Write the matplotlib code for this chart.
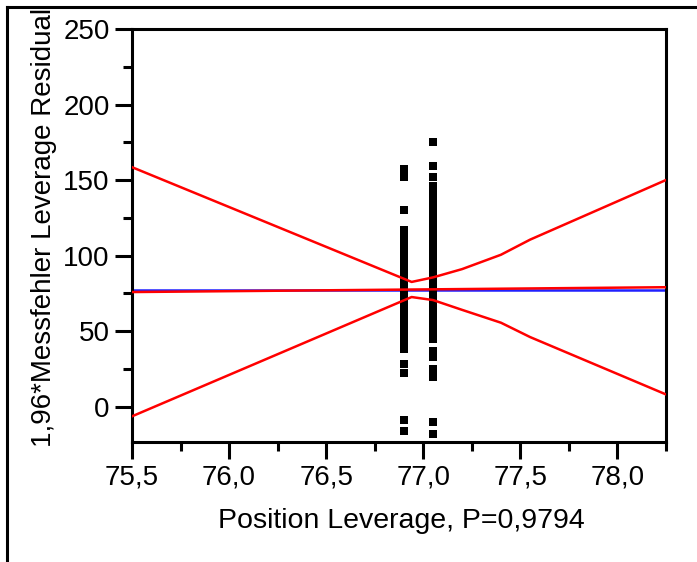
import matplotlib
matplotlib.use("Agg")
import matplotlib.pyplot as plt
from matplotlib.lines import Line2D
from matplotlib.ticker import MultipleLocator, FuncFormatter

plt.rcParams['font.family'] = ['Liberation Sans', 'DejaVu Sans']

# Data
x_group1 = 76.9
y_group1 = [157.5, 152, 130, 117, 114, 111, 108, 105, 102, 99, 96, 93, 90, 87,
            84, 81, 78, 75, 72, 69, 66, 63, 60, 57, 54, 51, 48.5, 44, 41, 38,
            28, 22.5, -9, -16]
x_group2 = 77.05
y_group2 = [175, 159, 152, 146, 143, 140, 137, 134, 131, 128, 123.5, 120, 117,
            114, 111, 108, 105, 102, 99, 96, 93, 90, 87, 84, 81, 78, 75, 72,
            69, 66, 63, 60, 57, 54, 51, 48, 45, 37, 33, 25, 19.5, -10.5, -18]

mean_y = 77.2
fit_x = [75.5, 78.25]
fit_y = [75.8, 79.0]

upper_x = [75.5, 76.94, 77.05, 77.2, 77.4, 77.55, 78.25]
upper_y = [158.5, 82.5, 85.5, 91, 100.5, 110.5, 150]
lower_x = [75.5, 76.94, 77.05, 77.2, 77.4, 77.55, 78.25]
lower_y = [-6.5, 72.5, 70.5, 64, 55.5, 46, 8]

xlabel = "Position Leverage, P=0,9794"
ylabel = "1,96*Messfehler Leverage Residual"

fig = plt.figure(figsize=(6.97, 5.62), dpi=100)
ax = fig.add_axes([132/697, 1-442/562, (666-132)/697, (442-29)/562])

ax.plot([x_group1]*len(y_group1), y_group1, 's', color='black', ms=5.7, mew=0, zorder=3)
ax.plot([x_group2]*len(y_group2), y_group2, 's', color='black', ms=5.7, mew=0, zorder=3)

ax.axhline(mean_y, color='#2020ff', lw=1.8, zorder=2)
ax.plot(fit_x, fit_y, color='#ff0000', lw=1.8, zorder=4)
ax.plot(upper_x, upper_y, color='#ff0000', lw=1.8, zorder=4)
ax.plot(lower_x, lower_y, color='#ff0000', lw=1.8, zorder=4)

ax.set_xlim(75.5, 78.25)
ax.set_ylim(-23.5, 250)

ax.xaxis.set_major_locator(MultipleLocator(0.5))
ax.xaxis.set_minor_locator(MultipleLocator(0.25))
ax.yaxis.set_major_locator(MultipleLocator(50))
ax.yaxis.set_minor_locator(MultipleLocator(25))
ax.xaxis.set_major_formatter(FuncFormatter(lambda v, p: f"{v:.1f}".replace('.', ',')))
ax.yaxis.set_major_formatter(FuncFormatter(lambda v, p: f"{v:.0f}"))

for s in ax.spines.values():
    s.set_linewidth(2.2)
ax.tick_params(which='major', direction='out', length=12, width=2.2, labelsize=20, pad=4)
ax.tick_params(which='minor', direction='out', length=6.5, width=2.2)

ax.set_xlabel(xlabel, fontsize=20.5)
ax.set_ylabel(ylabel, fontsize=20)
ax.xaxis.set_label_coords(0.505, -0.16)
ax.yaxis.set_label_coords(-0.14, 0.52)

# Outer partial frame
fig.add_artist(Line2D([7/697, 1.0], [1-7/562, 1-7/562], transform=fig.transFigure, color='black', lw=2.2))
fig.add_artist(Line2D([7/697, 7/697], [0.0, 1-7/562], transform=fig.transFigure, color='black', lw=2.2))

fig.savefig("out.png", dpi=100)
